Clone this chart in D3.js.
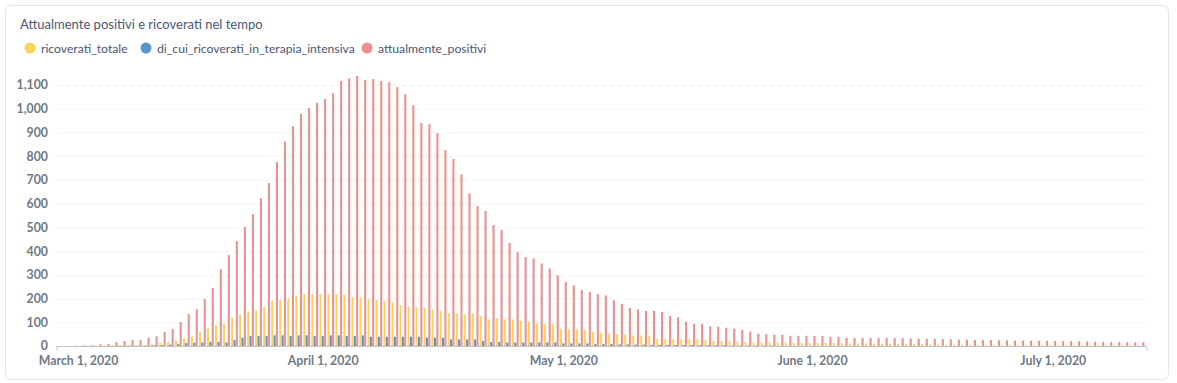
<!DOCTYPE html>
<html>
<head>
<meta charset="utf-8">
<script src="https://cdn.jsdelivr.net/npm/d3@7"></script>
<style>
  body { margin: 0; background: #fff; font-family: Lato, "Open Sans", sans-serif; }
  svg { display: block; }
</style>
</head>
<body>
<svg id="chart" width="1177" height="383"></svg>
<script>
// one value per day, March 1 .. July 12, 2020
const startDay = new Date(2020, 2, 1);

const series = ["ricoverati_totale", "di_cui_ricoverati_in_terapia_intensiva", "attualmente_positivi"];

const attualmentePositivi = [
  2, 3, 4, 7, 8, 17, 21, 25, 25, 35, 41, 59, 72, 101, 135, 156, 198, 244, 324, 383,
  442, 503, 556, 624, 687, 775, 861, 927, 978, 1003, 1025, 1041,
  1065, 1117, 1128, 1138, 1121, 1125, 1117, 1112, 1091, 1062, 1015, 940, 935, 897, 826, 788,
  723, 643, 590, 569, 510, 489, 434, 396, 375, 369, 348, 327, 298,
  270, 256, 236, 228, 219, 213, 193, 177, 160, 154, 148, 148, 143, 127, 121, 102, 94, 94,
  83, 81, 77, 73, 68, 61, 52, 50, 47, 47, 43, 43, 43,
  43, 43, 39, 39, 34, 34, 34, 34, 34, 34,
  33, 33, 32, 31, 30, 30, 29, 28, 27, 27, 26, 26, 25, 24, 24, 23, 23, 22, 22, 22,
  21, 21, 21, 20, 19, 18, 18, 17, 17, 17, 16, 16
];

const ricoveratiTotale = [
  0, 0, 1, 2, 2, 3, 4, 5, 3, 3, 8, 14, 17, 22, 31, 41, 59, 74, 88, 94,
  119, 131, 145, 149, 164, 191, 194, 201, 211, 219, 219, 219,
  220, 218, 216, 205, 204, 199, 194, 190, 184, 173, 166, 163, 163, 154, 147, 138,
  138, 133, 138, 126, 112, 117, 112, 112, 105, 103, 96, 91, 91,
  73, 70, 70, 67, 60, 56, 53, 50, 47, 44, 44, 41, 30, 28, 28, 28, 28,
  28, 26, 21, 21, 20, 18, 17, 14, 15, 14, 14, 14, 13, 13,
  13, 13, 12, 12, 12, 11, 11, 11, 10, 10, 10, 9, 9, 8, 8,
  6, 6, 5, 5, 5, 5, 4, 4, 4, 4, 4, 4, 3, 3, 3, 3, 3, 3, 3, 2, 2, 2, 2, 2, 2, 2, 2
];

const terapiaIntensiva = [
  0, 0, 0, 0, 0, 1, 1, 2, 2, 2, 3, 4, 6, 8, 13, 14, 15, 18, 18, 15,
  25, 35, 42, 42, 42, 45, 45, 42, 45, 45, 42, 42,
  45, 45, 42, 42, 45, 39, 39, 39, 39, 39, 39, 39, 35, 35, 35, 28,
  28, 28, 28, 21, 17, 17, 15, 15, 15, 15, 15, 15, 15,
  11, 11, 11, 11, 8, 8, 8, 7, 7, 6, 6, 5, 5, 5, 4, 4, 4,
  3, 3, 3, 3, 2, 2, 2, 2, 2, 2, 1, 1, 1, 1,
  1, 1, 1, 1, 1, 1, 0, 0, 0, 0, 0, 0, 0, 0, 0, 0, 0, 0, 0, 0, 0, 0, 0, 0, 0, 0,
  0, 0, 0, 0, 0, 0, 0, 0, 0, 0, 0, 0, 0, 0, 0, 0
];

const yTicks = [0, 100, 200, 300, 400, 500, 600, 700, 800, 900, 1000, 1100];
const xTicks = [new Date(2020, 2, 1), new Date(2020, 3, 1), new Date(2020, 4, 1),
                new Date(2020, 5, 1), new Date(2020, 6, 1)];

const colors = { ricoverati_totale: "#F9D45C",
                 di_cui_ricoverati_in_terapia_intensiva: "#5a94cf",
                 attualmente_positivi: "#EC8F8F" };

const values = {
  ricoverati_totale: ricoveratiTotale,
  di_cui_ricoverati_in_terapia_intensiva: terapiaIntensiva,
  attualmente_positivi: attualmentePositivi
};

const rows = attualmentePositivi.map((v, i) => ({
  date: d3.timeDay.offset(startDay, i),
  vals: series.map(s => ({ key: s, value: values[s][i] }))
}));

const svg = d3.select("#chart");

// card
svg.append("rect")
  .attr("x", 5.5).attr("y", 5.5)
  .attr("width", 1163).attr("height", 374)
  .attr("rx", 6)
  .attr("fill", "#fff")
  .attr("stroke", "#e3e5ea");

svg.append("text")
  .attr("x", 20).attr("y", 29)
  .attr("font-size", 13)
  .attr("fill", "#4c5773")
  .text("Attualmente positivi e ricoverati nel tempo");

// legend
const legendX = [30, 146, 367];
series.forEach((s, i) => {
  const g = svg.append("g").attr("transform", `translate(${legendX[i]},48)`);
  g.append("circle").attr("r", 5.5).attr("fill", colors[s]);
  g.append("text")
    .attr("x", 11).attr("y", 4.5)
    .attr("font-size", 12.2)
    .attr("fill", "#4c5773")
    .text(s);
});

// 2020 is a leap year: the domain starts on Feb 28
const x = d3.scaleTime()
  .domain([new Date(2020, 1, 28, 9), new Date(2020, 6, 13, 6)])
  .range([57, 1147]);

const y = d3.scaleLinear()
  .domain([0, 1100])
  .range([346, 85]);

const inner = d3.scaleBand()
  .domain(series)
  .range([-3.4, 3.4])
  .paddingInner(0.12);

// grid lines
svg.append("g")
  .selectAll("line")
  .data(yTicks.slice(1))
  .join("line")
  .attr("x1", 57).attr("x2", 1147)
  .attr("y1", d => y(d) + 0.5).attr("y2", d => y(d) + 0.5)
  .attr("stroke", "#ececec")
  .attr("stroke-dasharray", "4,4");

// y axis labels
const yAxis = svg.append("g")
  .attr("transform", "translate(48,0)")
  .call(d3.axisLeft(y).tickValues(yTicks).tickSize(0).tickPadding(0).tickFormat(d3.format(",")));
yAxis.select(".domain").remove();
yAxis.selectAll("text")
  .attr("font-family", "Lato, sans-serif")
  .attr("font-size", 12.3)
  .attr("font-weight", "bold")
  .attr("fill", "#6f7988");

// bars
svg.append("g")
  .selectAll("g")
  .data(rows)
  .join("g")
  .attr("transform", d => `translate(${x(d3.timeHour.offset(d.date, 12))},0)`)
  .selectAll("rect")
  .data(d => d.vals)
  .join("rect")
  .attr("x", d => inner(d.key))
  .attr("width", inner.bandwidth())
  .attr("y", d => y(d.value))
  .attr("height", d => y(0) - y(d.value))
  .attr("fill", d => colors[d.key]);

// x axis, labels centred on the day's bar group
const xAxis = svg.append("g")
  .attr("transform", "translate(0,346.5)")
  .call(d3.axisBottom(x).tickValues(xTicks).tickSize(0).tickPadding(10)
    .tickFormat(d3.timeFormat("%B %-d, %Y")));
xAxis.select(".domain").attr("stroke", "#bfc3cb")
  .attr("d", "M57,4V0H1147V4");
xAxis.selectAll("text")
  .attr("transform", (d, i) => `translate(${(x(d3.timeHour.offset(d, 12)) - x(d)) + (i === 0 ? 4 : 0)},0)`)
  .attr("font-family", "Lato, sans-serif")
  .attr("font-size", 12.3)
  .attr("font-weight", "bold")
  .attr("fill", "#6f7988");
</script>
</body>
</html>
